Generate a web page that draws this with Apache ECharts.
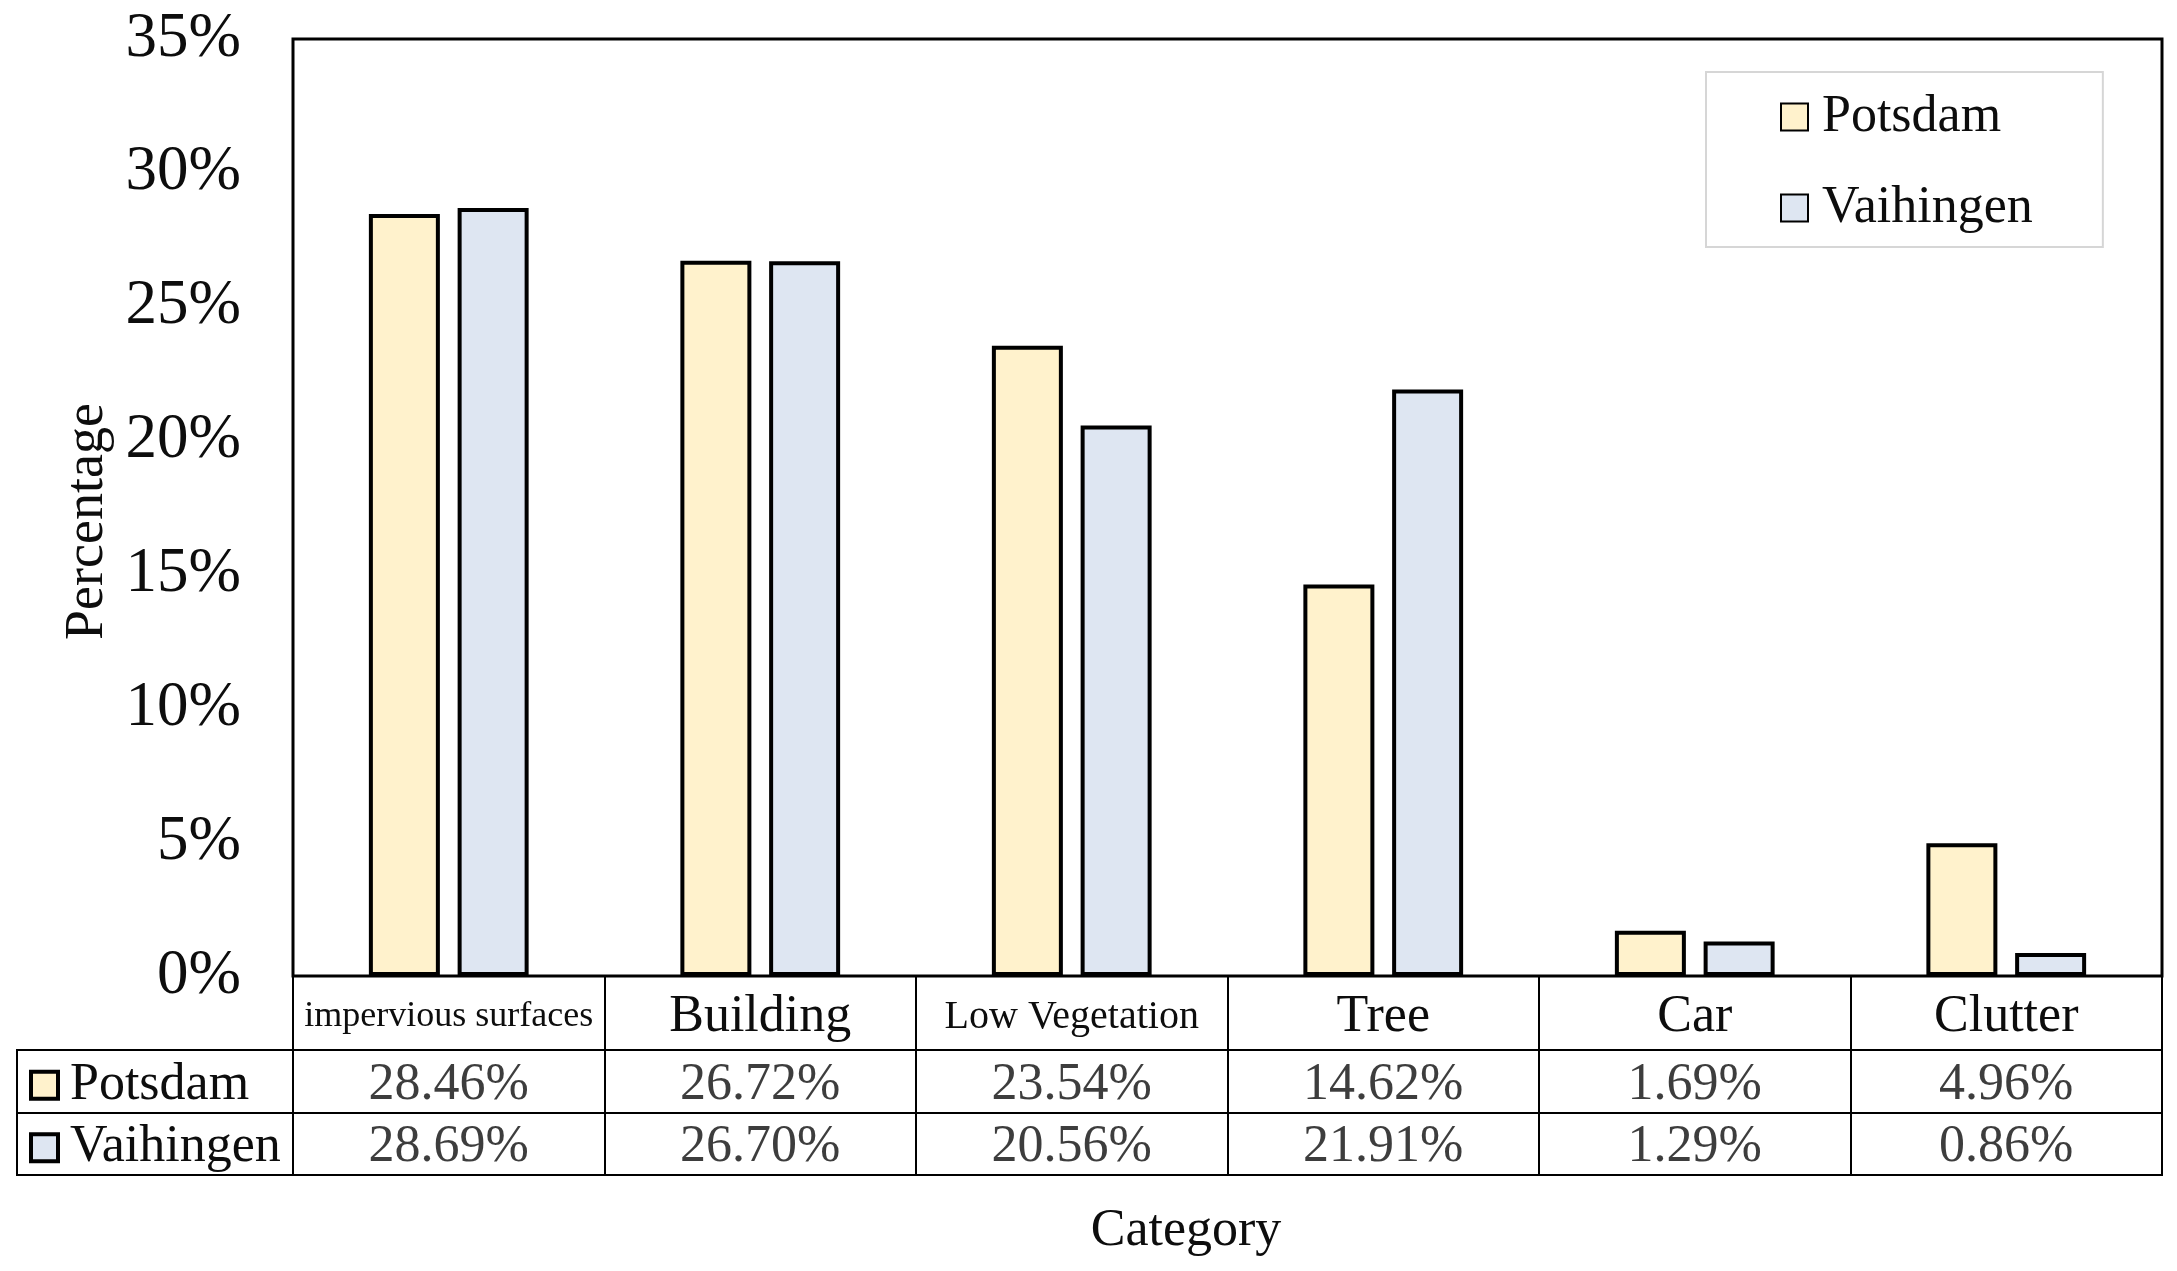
<!DOCTYPE html>
<html><head><meta charset="utf-8">
<script src="https://cdn.jsdelivr.net/npm/echarts@6/dist/echarts.min.js"></script>
<style>html,body{margin:0;padding:0;background:#fff}#c{width:2177px;height:1271px}</style>
</head><body><div id="c"></div>
<script>
// ---- data ----
const categories = ['impervious surfaces', 'Building', 'Low Vegetation', 'Tree', 'Car', 'Clutter'];
const seriesNames = ['Potsdam', 'Vaihingen'];
const potsdam = [28.46, 26.72, 23.54, 14.62, 1.69, 4.96];
const vaihingen = [28.69, 26.70, 20.56, 21.91, 1.29, 0.86];
const yMin = 0, yMax = 35, yInterval = 5;
const xTitle = 'Category';
const yTitle = 'Percentage';

// ---- styles ----
const FONT = 'Liberation Serif';
const colors = ['#FFF2CC', '#DEE6F2'];
const catFont = {'impervious surfaces': 36, 'Low Vegetation': 40};
const TXT = '#0d0d0d';

const chart = echarts.init(document.getElementById('c'));

const tableData = [];
[potsdam, vaihingen].forEach((arr, r) => arr.forEach((v, i) => tableData.push([i, seriesNames[r], v])));

const gridLine = {show: true, lineStyle: {color: '#000', width: 2}};

chart.setOption({
  backgroundColor: '#fff',
  animation: false,
  textStyle: {fontFamily: FONT, color: TXT},
  title: {
    text: xTitle, left: 1181, top: 1200, textAlign: 'center',
    textStyle: {fontFamily: FONT, fontSize: 52, fontWeight: 'normal', color: TXT}
  },
  legend: {
    data: seriesNames, orient: 'vertical', left: 1706, top: 72,
    backgroundColor: '#fff', borderColor: '#d6d6d6', borderWidth: 2,
    padding: [17, 70, 11, 74], itemWidth: 27, itemHeight: 27, itemGap: 35,
    icon: 'rect',
    textStyle: {fontFamily: FONT, fontSize: 52, lineHeight: 52, color: TXT, padding: [4, 0, 0, 9]}
  },
  grid: [
    {left: 293, right: 15, top: 39, height: 937, show: true, borderColor: '#000', borderWidth: 3},
    {left: 293, right: 15, top: 976, height: 74, show: true, borderColor: '#000', borderWidth: 2},
    {left: 293, right: 15, top: 1050, height: 125, show: true, borderColor: '#000', borderWidth: 2},
    {left: 17, width: 276, top: 1050, height: 125, show: true, borderColor: '#000', borderWidth: 2}
  ],
  xAxis: [
    {gridIndex: 0, type: 'category', data: categories, axisLine: {show: false}, axisTick: {show: false}, axisLabel: {show: false}},
    {gridIndex: 1, type: 'category', data: categories, axisLine: {show: false}, axisTick: {show: false},
      splitLine: gridLine,
      axisLabel: {
        interval: 0, margin: -33, verticalAlign: 'middle', color: TXT, fontFamily: FONT,
        formatter: v => '{s' + (catFont[v] || 52) + '|' + v + '}',
        rich: {s36: {fontSize: 36, fontFamily: FONT, color: TXT}, s40: {fontSize: 40, fontFamily: FONT, color: TXT}, s52: {fontSize: 52, fontFamily: FONT, color: TXT}}
      }},
    {gridIndex: 2, type: 'category', data: categories, axisLine: {show: false}, axisTick: {show: false},
      splitLine: gridLine, axisLabel: {show: false}},
    {gridIndex: 3, type: 'value', show: false}
  ],
  yAxis: [
    {gridIndex: 0, type: 'value', min: yMin, max: yMax, interval: yInterval,
      name: yTitle, nameLocation: 'middle', nameGap: 178,
      nameTextStyle: {fontFamily: FONT, fontSize: 54, color: TXT, padding: [0, 28, 0, 0]},
      axisLine: {show: false}, axisTick: {show: false}, splitLine: {show: false},
      axisLabel: {formatter: '{value}%', fontSize: 63, margin: 52, color: TXT, fontFamily: FONT, padding: [3, 0, 0, 0]}},
    {gridIndex: 1, type: 'value', show: false},
    {gridIndex: 2, type: 'category', data: seriesNames, inverse: true, axisLine: {show: false}, axisTick: {show: false},
      splitLine: gridLine, axisLabel: {show: false}},
    {gridIndex: 3, type: 'category', data: seriesNames, inverse: true, axisLine: {show: false}, axisTick: {show: false},
      splitLine: gridLine,
      axisLabel: {
        inside: true, margin: 16, color: TXT, padding: [8, 0, 0, 0],
        formatter: v => '{b' + seriesNames.indexOf(v) + '|}{t|' + v + '}',
        rich: {
          b0: {width: 23, height: 23, backgroundColor: colors[0], borderColor: '#000', borderWidth: 4},
          b1: {width: 23, height: 23, backgroundColor: colors[1], borderColor: '#000', borderWidth: 4},
          t: {fontSize: 52, fontFamily: FONT, color: TXT, padding: [0, 0, 0, 14]}
        }
      }}
  ],
  series: [
    {name: seriesNames[0], type: 'bar', xAxisIndex: 0, yAxisIndex: 0, data: potsdam, barWidth: 71, barGap: '25%',
      itemStyle: {color: colors[0], borderColor: '#000', borderWidth: 4}},
    {name: seriesNames[1], type: 'bar', xAxisIndex: 0, yAxisIndex: 0, data: vaihingen, barWidth: 71, barGap: '25%',
      itemStyle: {color: colors[1], borderColor: '#000', borderWidth: 4}},
    {name: 'table', type: 'scatter', xAxisIndex: 2, yAxisIndex: 2, data: tableData, symbol: 'rect', symbolSize: 1,
      itemStyle: {color: 'rgba(0,0,0,0)'}, silent: true,
      label: {show: true, position: 'inside', offset: [0, 4], fontSize: 52, fontFamily: FONT, color: TXT,
        formatter: p => p.value[2].toFixed(2) + '%'}}
  ]
});
</script></body></html>
